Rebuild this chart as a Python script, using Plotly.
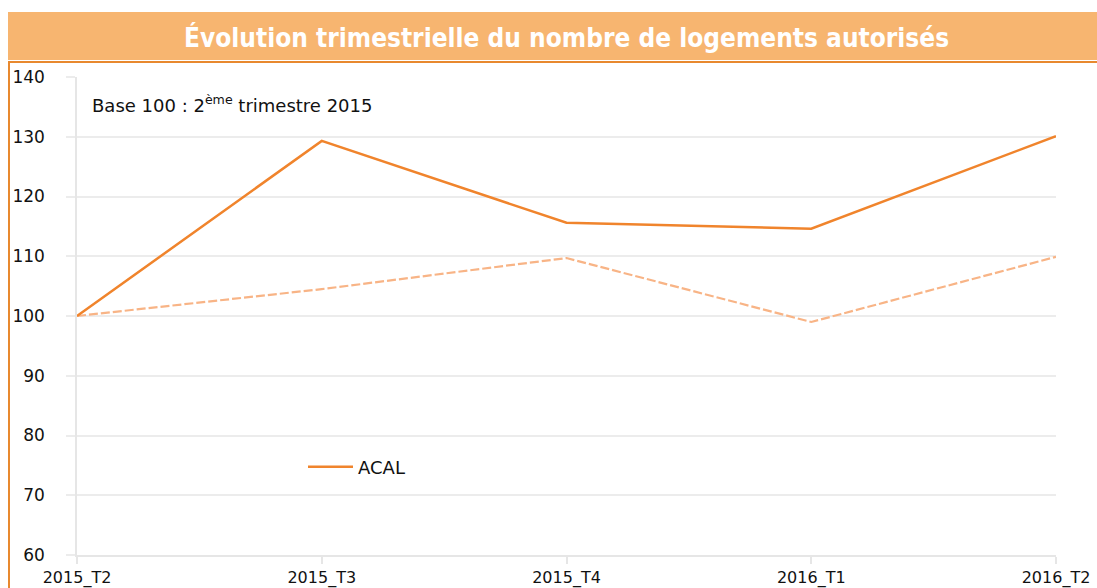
import plotly.graph_objects as go

categories = ["2015_T2", "2015_T3", "2015_T4", "2016_T1", "2016_T2"]
acal = [100, 129.3, 115.6, 114.6, 130.1]
other = [100, 104.5, 109.7, 99.0, 109.9]
y_ticks = [60, 70, 80, 90, 100, 110, 120, 130, 140]

W, H = 1097, 588
L, R, T, B = 77, 1056, 77, 555

def px(x):
    return (x - L) / (R - L)

def py(y):
    return (B - y) / (B - T)

fig = go.Figure()
fig.add_trace(go.Scatter(
    x=categories, y=other, mode="lines", showlegend=False, name="",
    line=dict(color="#F8B486", width=2.2, dash="9px,3px")))
fig.add_trace(go.Scatter(
    x=categories, y=acal, mode="lines", name="ACAL",
    line=dict(color="#F0842C", width=2.5)))

fig.update_layout(
    width=W, height=H,
    margin=dict(l=L, r=W - R, t=T, b=H - B, autoexpand=False),
    paper_bgcolor="white", plot_bgcolor="white",
    font=dict(family="DejaVu Sans, Verdana, sans-serif", color="#1a1a1a", size=16),
    xaxis=dict(type="category", range=[0, 4], showgrid=False, showline=True,
               automargin=False,
               linecolor="#E6E6E6", linewidth=1.5, ticks="outside", ticklen=7,
               tickcolor="#E6E6E6", tickwidth=1.5, ticklabelstandoff=0,
               tickfont=dict(size=16, color="#111")),
    yaxis=dict(range=[60, 140], tickvals=y_ticks, showgrid=True, gridcolor="#ECECEC",
               automargin=False,
               gridwidth=1.5, zeroline=False, showline=True, linecolor="#E6E6E6",
               linewidth=1.5, ticks="outside", ticklen=9, tickcolor="#ECECEC",
               tickwidth=1.5, ticklabelstandoff=18,
               tickfont=dict(size=17, color="#111")),
    legend=dict(x=px(303), y=py(467), xanchor="left", yanchor="middle",
                itemwidth=45,
                bgcolor="rgba(0,0,0,0)", font=dict(size=18, color="#111")),
    showlegend=True,
)

shapes = [
    dict(type="rect", xref="paper", yref="paper", x0=px(8), x1=px(1100),
         y0=py(60), y1=py(12), fillcolor="#F7B570", line=dict(width=0), layer="below"),
    dict(type="line", xref="paper", yref="paper", x0=px(8), x1=px(1100),
         y0=py(62), y1=py(62), line=dict(color="#E8892F", width=2)),
    dict(type="line", xref="paper", yref="paper", x0=px(9), x1=px(9),
         y0=py(62), y1=py(590), line=dict(color="#E8892F", width=2)),
]
fig.update_layout(shapes=shapes)

fig.add_annotation(xref="paper", yref="paper", x=px(566), y=py(37),
                   text="<b>Évolution trimestrielle du nombre de logements autorisés</b>",
                   showarrow=False, xanchor="center", yanchor="middle",
                   font=dict(family="DejaVu Sans Condensed, Liberation Sans Narrow, DejaVu Sans, sans-serif",
                             size=26, color="white"))
fig.add_annotation(xref="paper", yref="paper", x=px(90), y=py(104),
                   text="Base 100 : 2<sup>ème</sup> trimestre 2015",
                   showarrow=False, xanchor="left", yanchor="middle",
                   font=dict(size=18, color="#111"))

fig.write_html("out.html")
